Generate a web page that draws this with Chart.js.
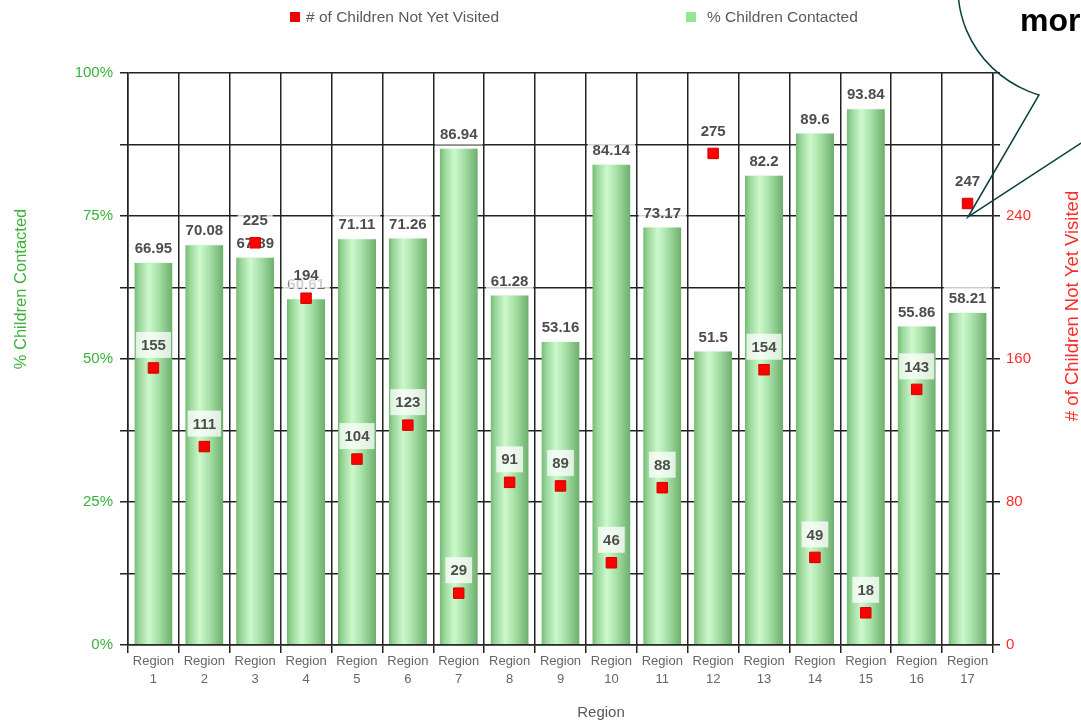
<!DOCTYPE html>
<html>
<head>
<meta charset="utf-8">
<title>Children Contacted by Region</title>
<script src="https://cdn.jsdelivr.net/npm/chart.js@4/dist/chart.umd.min.js"></script>
<style>
  html, body { margin: 0; padding: 0; background: #ffffff; }
  #wrap { position: relative; width: 1081px; height: 724px; }
  canvas { display: block; }
</style>
</head>
<body>
<div id="wrap"><canvas id="chart" width="1081" height="724"></canvas></div>
<script>
// ---- data ----
const regionNumbers = ['1','2','3','4','5','6','7','8','9','10','11','12','13','14','15','16','17'];
const pctContacted = [66.95, 70.08, 67.89, 60.61, 71.11, 71.26, 86.94, 61.28, 53.16, 84.14, 73.17, 51.5, 82.2, 89.6, 93.84, 55.86, 58.21];
const notYetVisited = [155, 111, 225, 194, 104, 123, 29, 91, 89, 46, 88, 275, 154, 49, 18, 143, 247];
const pctTickLabels = [0, 25, 50, 75, 100];
const countTickLabels = [0, 80, 160, 240];

const seriesNames = { count: '# of Children Not Yet Visited', pct: '% Children Contacted' };
const axisTitles = { x: 'Region', left: '% Children Contacted', right: '# of Children Not Yet Visited' };

// ---- styling ----
const FONT = '"Liberation Sans", Arial, Helvetica, sans-serif';
const GRID = '#222222';
const GREEN_TXT = '#3cb03c';
const RED_TXT = '#ff2a2a';
const BAR_PCT = 0.75;

function barGradient(ctx) {
  const chart = ctx.chart;
  const area = chart.chartArea;
  if (!area || !chart.scales.x) return '#a6e0a6';
  const cx = chart.scales.x.getPixelForValue(ctx.dataIndex);
  const w = (area.right - area.left) / regionNumbers.length * BAR_PCT;
  const g = chart.ctx.createLinearGradient(cx - w / 2, 0, cx + w / 2, 0);
  g.addColorStop(0, '#74b874');
  g.addColorStop(0.12, '#98d698');
  g.addColorStop(0.38, '#cdf8cd');
  g.addColorStop(0.62, '#a9e2a9');
  g.addColorStop(1, '#6cae6c');
  return g;
}

function labelBox(c, text, x, y, alpha, h) {
  c.save();
  c.font = 'bold 15px ' + FONT;
  const w = c.measureText(text).width + 10;
  c.fillStyle = 'rgba(255,255,255,' + alpha + ')';
  c.fillRect(x - w / 2, y - h / 2, w, h);
  c.fillStyle = '#4d4d4d';
  c.textAlign = 'center';
  c.textBaseline = 'middle';
  c.fillText(text, x, y + 1);
  c.restore();
}

// value labels: bar labels after the bars, point labels after the points
const valueLabels = {
  id: 'valueLabels',
  afterDatasetDraw(chart, args) {
    const c = chart.ctx;
    const ds = chart.data.datasets[args.index];
    args.meta.data.forEach((el, i) => {
      const v = ds.data[i];
      if (ds.type === 'bar') {
        labelBox(c, String(v), el.x, el.y - 14, 0.8, 22);
      } else {
        labelBox(c, String(v), el.x, el.y - 23, 0.75, 26);
      }
    });
  }
};

// legend, axis titles and the call-out bubble
const decorations = {
  id: 'decorations',
  afterDraw(chart) {
    const c = chart.ctx;
    c.save();
    // legend
    c.font = '15.5px ' + FONT;
    c.textBaseline = 'middle';
    c.textAlign = 'left';
    c.fillStyle = '#ee0000';
    c.fillRect(290, 12, 10, 10);
    c.fillStyle = '#5a5a5a';
    c.fillText(seriesNames.count, 306, 18);
    c.fillStyle = '#90e890';
    c.fillRect(686, 12, 10, 10);
    c.fillStyle = '#5a5a5a';
    c.fillText(seriesNames.pct, 707, 18);

    // x title
    c.textAlign = 'center';
    c.font = '15px ' + FONT;
    c.fillText(axisTitles.x, 601, 713);

    // left title
    c.save();
    c.translate(21, 289);
    c.rotate(-Math.PI / 2);
    c.font = '16.5px ' + FONT;
    c.fillStyle = GREEN_TXT;
    c.fillText(axisTitles.left, 0, 0);
    c.restore();

    // right title
    c.save();
    c.translate(1073, 306);
    c.rotate(-Math.PI / 2);
    c.font = '18.5px ' + FONT;
    c.fillStyle = RED_TXT;
    c.fillText(axisTitles.right, 0, 0);
    c.restore();

    // call-out bubble
    c.strokeStyle = '#0f3f3f';
    c.lineWidth = 1.5;
    c.beginPath();
    c.ellipse(1073, -12, 115, 112, 0, Math.PI + 0.4, 1.871, true);
    c.lineTo(968, 217);
    c.lineTo(1190, 72);
    c.stroke();
    c.font = 'bold 32px ' + FONT;
    c.fillStyle = '#000000';
    c.textAlign = 'left';
    c.textBaseline = 'alphabetic';
    c.fillText('more', 1020, 31);
    c.restore();
  }
};

const ctx = document.getElementById('chart').getContext('2d');
new Chart(ctx, {
  data: {
    labels: regionNumbers.map(n => ['Region', n]),
    datasets: [
      {
        type: 'line',
        label: seriesNames.count,
        data: notYetVisited,
        yAxisID: 'yCount',
        showLine: false,
        pointStyle: 'rect',
        pointRadius: 7.4,
        pointHoverRadius: 7.4,
        pointBackgroundColor: '#ff0000',
        pointBorderColor: '#d00000',
        pointBorderWidth: 1,
        order: 0
      },
      {
        type: 'bar',
        label: seriesNames.pct,
        data: pctContacted,
        yAxisID: 'yPct',
        backgroundColor: barGradient,
        borderColor: 'rgba(235,255,235,0.9)',
        borderWidth: { top: 1, left: 0, right: 0, bottom: 0 },
        borderSkipped: 'bottom',
        barPercentage: BAR_PCT,
        categoryPercentage: 1,
        order: 1
      }
    ]
  },
  options: {
    responsive: false,
    animation: false,
    layout: { padding: { top: 73, left: 0, right: 0, bottom: 0 } },
    plugins: {
      legend: { display: false },
      tooltip: { enabled: false }
    },
    scales: {
      x: {
        offset: true,
        grid: { offset: true, color: GRID, lineWidth: 1.5, tickLength: 8, drawTicks: true },
        border: { color: GRID, width: 1.5 },
        ticks: { color: '#666666', font: { family: FONT, size: 13, lineHeight: 1.35 }, padding: 0, maxRotation: 0, autoSkip: false },
        afterFit(s) { s.height = 79; }
      },
      yPct: {
        position: 'left',
        min: 0,
        max: 100,
        ticks: {
          stepSize: 12.5,
          color: GREEN_TXT,
          font: { family: FONT, size: 15 },
          padding: 7,
          callback: v => pctTickLabels.includes(v) ? v + '%' : ''
        },
        grid: { color: GRID, lineWidth: 1.5, tickLength: 8 },
        border: { color: GRID, width: 1.5 },
        afterFit(s) { s.width = 128; }
      },
      yCount: {
        position: 'right',
        min: 0,
        max: 320,
        ticks: {
          stepSize: 40,
          color: RED_TXT,
          font: { family: FONT, size: 15 },
          padding: 6,
          callback: v => countTickLabels.includes(v) ? String(v) : ''
        },
        grid: { drawOnChartArea: false, color: GRID, lineWidth: 1.5, tickLength: 7 },
        border: { color: GRID, width: 1.5 },
        afterFit(s) { s.width = 88; }
      }
    }
  },
  plugins: [valueLabels, decorations]
});
</script>
</body>
</html>
